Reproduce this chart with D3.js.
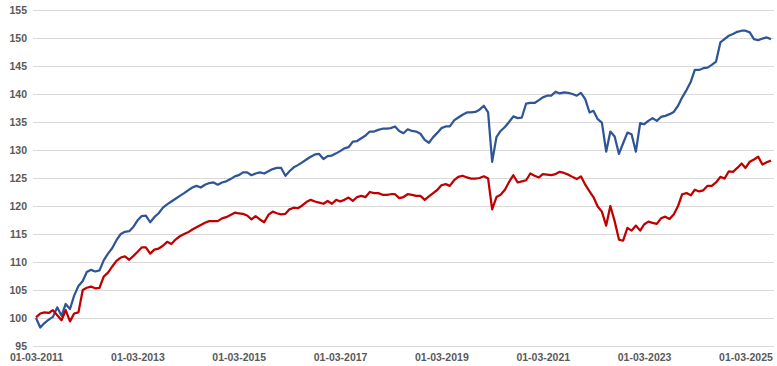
<!DOCTYPE html>
<html>
<head>
<meta charset="utf-8">
<script src="https://cdn.jsdelivr.net/npm/d3@7"></script>
<style>
  body { margin: 0; background: #fff; }
  .tick text { font-family: "Liberation Sans", Arial, sans-serif; font-weight: bold; fill: #595959; }
</style>
</head>
<body>
<script>
// monthly points, first one is 01-03-2011
var startMonth = "2011-03-01";
var blueValues = [
  100.0, 98.3, 99.1, 99.7, 100.2, 101.9, 100.4, 102.5, 101.6, 104.0, 105.7, 106.6,
  108.2, 108.6, 108.3, 108.5, 110.3, 111.5, 112.5, 113.9, 115.0, 115.4, 115.5, 116.3,
  117.4, 118.2, 118.3, 117.1, 118.0, 118.7, 119.7, 120.3, 120.8, 121.3, 121.8, 122.3,
  122.8, 123.3, 123.6, 123.3, 123.8, 124.1, 124.2, 123.8, 124.2, 124.4, 124.8, 125.3,
  125.5, 126.0, 126.0, 125.5, 125.8, 126.0, 125.8, 126.2, 126.6, 126.8, 126.8, 125.4,
  126.2, 126.9, 127.3, 127.8, 128.3, 128.8, 129.2, 129.3, 128.4, 128.9, 129.0, 129.4,
  129.8, 130.3, 130.5, 131.5, 131.6, 132.1, 132.6, 133.3, 133.3, 133.6, 133.8, 133.8,
  133.9, 134.2, 133.4, 133.0, 133.7, 133.4, 133.3, 132.9, 131.8, 131.3, 132.3, 133.1,
  133.9, 134.2, 134.2, 135.3, 135.8, 136.3, 136.7, 136.7, 136.8, 137.2, 137.9, 136.7,
  127.9, 132.3, 133.4, 134.1, 135.0, 136.0, 135.7, 135.8, 138.3, 138.4, 138.4, 138.9,
  139.4, 139.7, 139.7, 140.4, 140.1, 140.3, 140.2, 140.0, 139.7, 140.2, 139.1, 136.7,
  137.0, 135.5, 134.9, 129.7, 133.3, 132.4, 129.3, 131.2, 133.1, 132.8, 129.7, 134.8,
  134.6, 135.2, 135.7, 135.2, 135.9, 136.1, 136.4, 136.8, 137.9, 139.4, 140.7, 142.2,
  144.3, 144.3, 144.6, 144.7, 145.2, 145.8, 149.2, 149.8, 150.4, 150.7, 151.1, 151.3,
  151.3, 151.0, 149.8, 149.6, 149.9, 150.1, 149.8
];
var redValues = [
  100.1, 100.8, 101.0, 100.9, 101.4, 100.5, 99.6, 101.4, 99.4, 100.8, 101.0, 105.0,
  105.4, 105.6, 105.3, 105.4, 107.4, 108.1, 109.2, 110.2, 110.8, 111.0, 110.4, 111.1,
  111.8, 112.6, 112.6, 111.5, 112.2, 112.4, 112.9, 113.6, 113.2, 114.0, 114.6, 115.0,
  115.3, 115.8, 116.2, 116.6, 117.0, 117.3, 117.3, 117.3, 117.8, 118.0, 118.4, 118.8,
  118.7, 118.6, 118.3, 117.6, 118.2, 117.6, 117.1, 118.4, 119.0, 118.7, 118.5, 118.6,
  119.4, 119.7, 119.6, 120.1, 120.7, 121.1, 120.8, 120.6, 120.4, 120.9, 120.4, 121.1,
  120.8, 121.1, 121.5, 120.9, 121.6, 121.8, 121.6, 122.5, 122.3, 122.3, 122.0, 122.0,
  122.1, 122.1, 121.4, 121.6, 122.1, 122.0, 121.8, 121.8, 121.1, 121.7, 122.3, 122.9,
  123.7, 123.9, 123.6, 124.6, 125.2, 125.4, 125.1, 124.9, 124.9, 125.0, 125.3, 124.9,
  119.4, 121.6, 122.0, 122.9, 124.3, 125.5, 124.2, 124.4, 124.6, 125.8, 125.4, 125.1,
  125.7, 125.6, 125.5, 125.7, 126.1, 125.9, 125.6, 125.2, 124.8, 125.3, 123.8, 122.6,
  121.6, 119.9, 119.0, 116.5, 120.0, 117.3, 114.0, 113.8, 116.1, 115.6, 116.5, 115.6,
  116.7, 117.2, 117.0, 116.8, 117.8, 118.1, 117.7, 118.5, 120.0, 122.1, 122.3, 121.9,
  122.9, 122.6, 122.8, 123.6, 123.6, 124.2, 125.2, 124.9, 126.2, 126.1, 126.8, 127.6,
  126.8, 127.9, 128.3, 128.8, 127.4, 127.8, 128.1
];
var yTicks = [95, 100, 105, 110, 115, 120, 125, 130, 135, 140, 145, 150, 155];
var xTickYears = [2011, 2013, 2015, 2017, 2019, 2021, 2023, 2025];

var width = 777, height = 366;
var plot = { left: 33, right: 774, top: 10, bottom: 346 };

var start = d3.timeParse("%Y-%m-%d")(startMonth);
var months = blueValues.map(function(d, i) { return d3.timeMonth.offset(start, i); });

var svg = d3.select("body").append("svg")
    .attr("width", width)
    .attr("height", height);

var xscale = d3.scaleTime()
    .domain([months[0], months[months.length - 1]])
    .range([36, 771]);
var yscale = d3.scaleLinear()
    .domain([95, 155])
    .range([plot.bottom, plot.top]);

// grid
svg.append("g")
    .selectAll("line")
    .data(yTicks)
    .enter().append("line")
    .attr("x1", plot.left)
    .attr("x2", plot.right)
    .attr("y1", function(d) { return Math.round(yscale(d)) + 0.5; })
    .attr("y2", function(d) { return Math.round(yscale(d)) + 0.5; })
    .attr("stroke", "#d9d9d9")
    .attr("stroke-width", 1);

var yAxis = d3.axisLeft(yscale)
    .tickValues(yTicks)
    .tickSize(0)
    .tickPadding(6);
svg.append("g")
    .attr("class", "y axis")
    .attr("transform", "translate(" + plot.left + ",0)")
    .call(yAxis)
    .call(function(g) { g.select(".domain").remove(); })
    .selectAll("text").attr("font-size", "10.5px");

var xAxis = d3.axisBottom(xscale)
    .tickValues(xTickYears.map(function(y) { return new Date(y, 2, 1); }))
    .tickFormat(d3.timeFormat("%d-%m-%Y"))
    .tickSize(0)
    .tickPadding(8);
svg.append("g")
    .attr("class", "x axis")
    .attr("transform", "translate(0," + plot.bottom + ")")
    .call(xAxis)
    .call(function(g) { g.select(".domain").remove(); })
    .selectAll("text").attr("font-size", "10.5px");

function addLine(values, color) {
    var line = d3.line()
        .x(function(d, i) { return xscale(months[i]); })
        .y(function(d) { return yscale(d); });
    svg.append("path")
        .datum(values)
        .attr("fill", "none")
        .attr("stroke", color)
        .attr("stroke-width", 2.25)
        .attr("stroke-linejoin", "round")
        .attr("d", line);
}
addLine(blueValues, "#2f5597");
addLine(redValues, "#c00000");
</script>
</body>
</html>
